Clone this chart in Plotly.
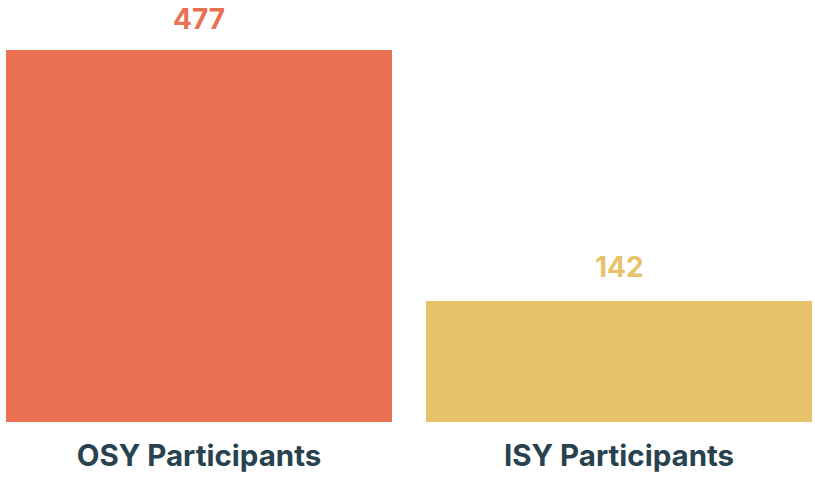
import plotly.graph_objects as go

categories = ["OSY Participants", "ISY Participants"]
values = [477, 142]
value_labels = ["477", "142"]

colors = ["#E97052", "#E8C26A"]
TEXT_DARK = "#28434F"
BASELINE = -19.5  # visual floor offset seen in the reference bars
FONT = "Inter, Roboto, sans-serif"

fig = go.Figure()
fig.add_trace(go.Bar(
    x=categories,
    y=[v - BASELINE for v in values],
    base=BASELINE,
    marker=dict(color=colors, line=dict(width=0)),
    hoverinfo="skip",
    showlegend=False,
))

for cat, v, lab, c, ys in zip(categories, values, value_labels, colors, [12, 15]):
    fig.add_annotation(
        x=cat, y=v, text=f"<b>{lab}</b>", showarrow=False,
        yanchor="bottom", yshift=ys,
        font=dict(family=FONT, size=28, color=c),
    )

fig.update_layout(
    width=815, height=478,
    margin=dict(l=6, r=3, t=0, b=56),
    paper_bgcolor="white", plot_bgcolor="white",
    bargap=0.081,
    xaxis=dict(
        range=[-0.4595, 1.4595], showgrid=False, zeroline=False, showline=False,
        ticks="", tickfont=dict(family=FONT, size=29.5, color=TEXT_DARK),
        ticklabelstandoff=13,
        tickvals=categories,
        ticktext=[f"<b>{c}</b>" for c in categories],
        fixedrange=True,
    ),
    yaxis=dict(
        range=[BASELINE, BASELINE + 563.2], visible=False, fixedrange=True,
    ),
)

fig.write_html(
    "out.html",
    config={"displayModeBar": False, "staticPlot": True},
    post_script="document.body.style.margin='0';document.body.style.padding='0';",
)
